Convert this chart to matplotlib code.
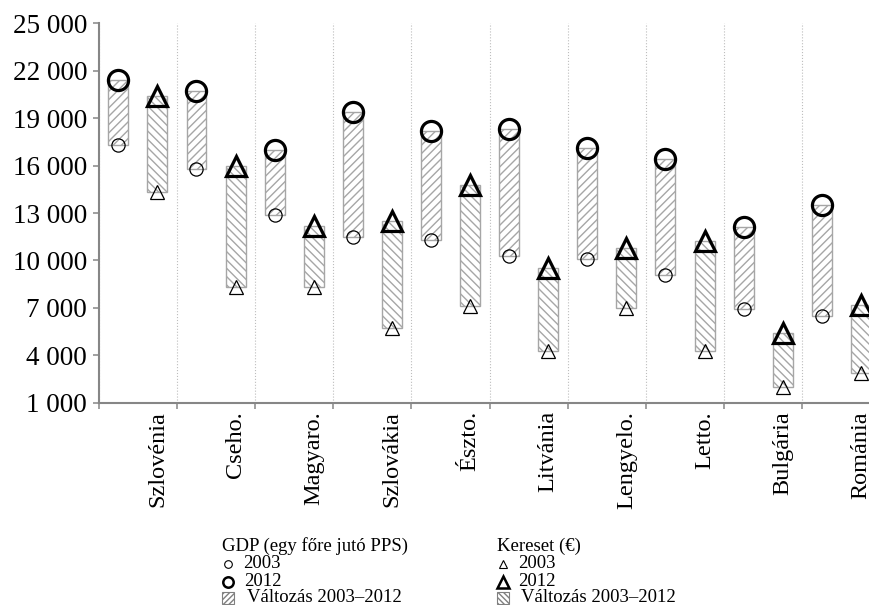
import matplotlib
matplotlib.use("Agg")
import matplotlib.pyplot as plt
from matplotlib.lines import Line2D
from matplotlib.patches import Rectangle
import numpy as np

plt.rcParams['font.family'] = ['Liberation Serif', 'DejaVu Serif']
plt.rcParams['hatch.linewidth'] = 1.0

countries = ['Szlovénia', 'Cseho.', 'Magyaro.', 'Szlovákia', 'Észto.',
             'Litvánia', 'Lengyelo.', 'Letto.', 'Bulgária', 'Románia']
gdp_2003 = [17300, 15800, 12900, 11500, 11300, 10300, 10100, 9100, 6900, 6500]
gdp_2012 = [21400, 20700, 17000, 19400, 18200, 18300, 17100, 16400, 12100, 13500]
ker_2003 = [14300, 8300, 8300, 5700, 7100, 4300, 7000, 4300, 2000, 2900]
ker_2012 = [20400, 16000, 12200, 12500, 14800, 9500, 10800, 11200, 5400, 7200]
y_ticks = list(range(1000, 25001, 3000))

W, H = 870, 605
fig = plt.figure(figsize=(W / 100, H / 100), dpi=100)
ax = fig.add_axes([98.8 / W, 1 - 402.7 / H, (880.4 - 98.8) / W, (402.7 - 23.3) / H])

gray = '#a6a6a6'
n = len(countries)
xg = np.arange(n) * 2
xk = np.arange(n) * 2 + 1
bw = 0.51

g0 = np.array(gdp_2003); g1 = np.array(gdp_2012)
k0 = np.array(ker_2003); k1 = np.array(ker_2012)

ax.bar(xg, g1 - g0, bottom=g0, width=bw, facecolor='white', edgecolor=gray,
       hatch='////', linewidth=1.0, zorder=2)
ax.bar(xk, k1 - k0, bottom=k0, width=bw, facecolor='white', edgecolor=gray,
       hatch='\\\\\\\\', linewidth=1.0, zorder=2)

ax.plot(xg, g0, ls='none', marker='o', ms=9.5, mfc='none', mec='black', mew=0.9, zorder=3)
ax.plot(xg, g1, ls='none', marker='o', ms=14.5, mfc='none', mec='black', mew=2.3, zorder=3)
ax.plot(xk, k0, ls='none', marker='^', ms=10, mfc='none', mec='black', mew=0.9, zorder=3)
ax.plot(xk, k1, ls='none', marker='^', ms=15, mfc='none', mec='black', mew=2.3, zorder=3)

ax.set_xlim(-0.5, 2 * n - 0.5)
ax.set_ylim(1000, 25000)
ax.set_yticks(y_ticks)
ax.set_yticklabels([f"{v:,}".replace(',', ' ') for v in y_ticks], fontsize=19.5)

ax.set_xticks(xk)
ax.set_xticklabels(countries, rotation=90, fontsize=17.5, va='top')
ax.set_xticks(np.arange(-0.5, 2 * n, 2), minor=True)
ax.tick_params(axis='x', which='major', length=0, pad=6)
ax.tick_params(axis='x', which='minor', length=6 * 0.72, width=1.1, color='#868686')
ax.tick_params(axis='y', length=6 * 0.72, width=1.1, color='#868686', pad=4)
ax.grid(True, axis='x', which='minor', linestyle=':', color='#bdbdbd', linewidth=0.8)
ax.grid(False, axis='x', which='major')
ax.set_axisbelow(True)

for s in ['top', 'right']:
    ax.spines[s].set_visible(False)
for s in ['left', 'bottom']:
    ax.spines[s].set_color('#868686')
    ax.spines[s].set_linewidth(1.5)


def fx(x):
    return x / W


def fy(y):
    return 1 - y / H


lfs = 13.5
rows = [546, 564, 582, 598]

fig.text(fx(222), fy(rows[0]), 'GDP (egy főre jutó PPS)', fontsize=lfs, va='center', ha='left')
fig.add_artist(Line2D([fx(228)], [fy(rows[1])], transform=fig.transFigure, marker='o', ms=5.5,
                      mfc='none', mec='black', mew=0.8, ls='none'))
fig.text(fx(243), fy(rows[1]), '2003', fontsize=lfs, va='center', ha='left')
fig.add_artist(Line2D([fx(228)], [fy(rows[2])], transform=fig.transFigure, marker='o', ms=7.5,
                      mfc='none', mec='black', mew=1.8, ls='none'))
fig.text(fx(244), fy(rows[2]), '2012', fontsize=lfs, va='center', ha='left')
fig.add_artist(Rectangle((fx(222), fy(rows[3] + 6)), 12 / W, 12 / H, transform=fig.transFigure,
                         facecolor='white', edgecolor='#808080', hatch='//////', linewidth=0.8))
fig.text(fx(247), fy(rows[3]), 'Változás 2003–2012', fontsize=lfs, va='center', ha='left')

fig.text(fx(497), fy(rows[0]), 'Kereset (€)', fontsize=lfs, va='center', ha='left')
fig.add_artist(Line2D([fx(503)], [fy(rows[1])], transform=fig.transFigure, marker='^', ms=6,
                      mfc='none', mec='black', mew=0.8, ls='none'))
fig.text(fx(518), fy(rows[1]), '2003', fontsize=lfs, va='center', ha='left')
fig.add_artist(Line2D([fx(503)], [fy(rows[2])], transform=fig.transFigure, marker='^', ms=9,
                      mfc='none', mec='black', mew=1.8, ls='none'))
fig.text(fx(518), fy(rows[2]), '2012', fontsize=lfs, va='center', ha='left')
fig.add_artist(Rectangle((fx(497), fy(rows[3] + 6)), 12 / W, 12 / H, transform=fig.transFigure,
                         facecolor='white', edgecolor='#808080', hatch='\\\\\\\\\\\\', linewidth=0.8))
fig.text(fx(521), fy(rows[3]), 'Változás 2003–2012', fontsize=lfs, va='center', ha='left')

fig.savefig('out.png', dpi=100)
